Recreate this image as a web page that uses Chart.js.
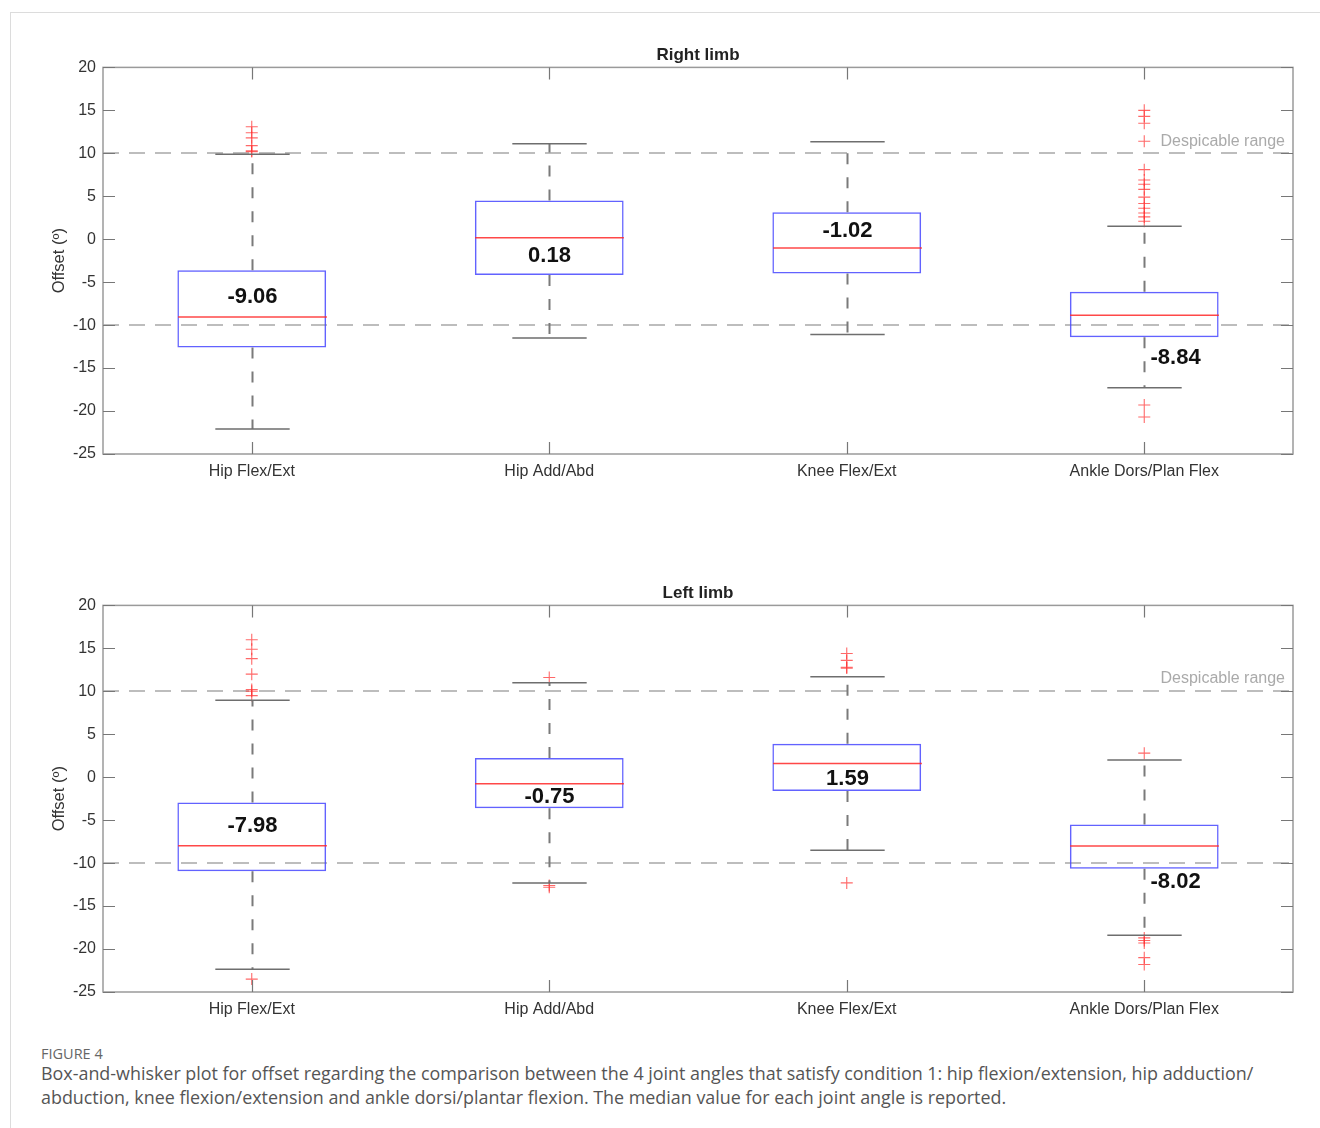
<!DOCTYPE html>
<html>
<head>
<meta charset="utf-8">
<script src="https://cdn.jsdelivr.net/npm/chart.js@4.4.1/dist/chart.umd.min.js"></script>
<style>
  body { margin: 0; background: #fff; width: 1320px; height: 1128px; overflow: hidden; position: relative; }
  #karte { position: absolute; left: 10px; top: 12px; width: 1320px; height: 1130px;
           border-top: 1px solid #dcdcdc; border-left: 1px solid #dcdcdc; }
  .plot { position: absolute; left: 0; width: 1320px; height: 500px; }
  #plotRechts { top: 0; }
  #plotLinks { top: 538px; }
  #figNr { position: absolute; left: 41px; top: 1044px; font: 14.5px "Open Sans", "Noto Sans", sans-serif; color: #666; }
  #caption { position: absolute; left: 41px; top: 1061px; font: 17.9px/24px "Open Sans", "Noto Sans", sans-serif; color: #555; white-space: nowrap; }
</style>
</head>
<body>
<div id="karte"></div>
<div class="plot" id="plotRechts"><canvas id="canvasRechts" width="1320" height="500"></canvas></div>
<div class="plot" id="plotLinks"><canvas id="canvasLinks" width="1320" height="500"></canvas></div>
<div id="figNr">FIGURE 4</div>
<div id="caption">Box-and-whisker plot for offset regarding the comparison between the 4 joint angles that satisfy condition 1: hip flexion/extension, hip adduction/<br>abduction, knee flexion/extension and ankle dorsi/plantar flexion. The median value for each joint angle is reported.</div>

<script>
// Gelenkwinkel (Kategorien)
const gelenke = ["Hip Flex/Ext", "Hip Add/Abd", "Knee Flex/Ext", "Ankle Dors/Plan Flex"];
const yTicks = [-25, -20, -15, -10, -5, 0, 5, 10, 15, 20];
const vernachlaessigbar = [10, -10];

// Rechtes Bein
const rechtsQ1 = [-12.6, -4.15, -4.0, -11.4];
const rechtsQ3 = [-3.6, 4.5, 3.15, -6.1];
const rechtsMedian = [-9.06, 0.18, -1.02, -8.84];
const rechtsWhiskerUnten = [-22.1, -11.5, -11.1, -17.3];
const rechtsWhiskerOben = [9.9, 11.1, 11.35, 1.5];
const rechtsAusreisser = [
  [13.1, 12.4, 11.8, 10.9, 10.3, 10.2],
  [],
  [],
  [15.0, 14.3, 13.5, 11.4, 8.1, 6.9, 6.4, 5.8, 4.9, 4.15, 3.6, 3.05, 2.6, 2.1, -19.3, -20.7]
];

// Linkes Bein
const linksQ1 = [-10.95, -3.6, -1.6, -10.65];
const linksQ3 = [-2.95, 2.25, 3.9, -5.5];
const linksMedian = [-7.98, -0.75, 1.59, -8.02];
const linksWhiskerUnten = [-22.35, -12.3, -8.5, -18.4];
const linksWhiskerOben = [8.95, 11.0, 11.7, 2.0];
const linksAusreisser = [
  [16.0, 14.9, 13.8, 12.0, 10.2, 10.0, 9.5, -23.5],
  [11.6, -12.6, -12.8],
  [14.4, 13.6, 12.8, 12.7, -12.3],
  [2.8, -18.7, -19.0, -19.3, -21.0, -21.8]
];

const schrift = '"Liberation Sans", Arial, Helvetica, sans-serif';

// Whisker, Median, Rahmen und Hinweise zeichnen
const boxPlugin = {
  id: "boxExtras",
  beforeDatasetsDraw(chart, args, opts) {
    const { ctx, chartArea: a, scales: { y } } = chart;
    ctx.save();
    ctx.strokeStyle = "#bdbdbd";
    ctx.lineWidth = 2;
    ctx.setLineDash([16, 10]);
    vernachlaessigbar.forEach((v) => {
      const py = Math.round(y.getPixelForValue(v));
      ctx.beginPath();
      ctx.moveTo(a.left, py);
      ctx.lineTo(a.right, py);
      ctx.stroke();
    });
    ctx.setLineDash([]);
    ctx.fillStyle = "#aaaaaa";
    ctx.font = "16px " + schrift;
    ctx.textAlign = "right";
    ctx.textBaseline = "middle";
    ctx.fillText("Despicable range", a.right - 8, y.getPixelForValue(opts.hinweisBei));
    ctx.restore();
  },
  afterDatasetsDraw(chart, args, opts) {
    const { ctx, scales: { y } } = chart;
    const meta = chart.getDatasetMeta(0);
    ctx.save();
    gelenke.forEach((g, i) => {
      const bar = meta.data[i];
      const cx = Math.round(bar.x) + 0.5;
      const halb = bar.width / 2;
      const yQ1 = y.getPixelForValue(opts.q1[i]);
      const yQ3 = y.getPixelForValue(opts.q3[i]);
      const yLo = y.getPixelForValue(opts.lo[i]);
      const yHi = y.getPixelForValue(opts.hi[i]);
      const yMed = y.getPixelForValue(opts.median[i]);

      // gestrichelte Whisker
      ctx.strokeStyle = "#7a7a7a";
      ctx.lineWidth = 2;
      ctx.setLineDash([11, 13]);
      ctx.beginPath();
      ctx.moveTo(cx, yQ3);
      ctx.lineTo(cx, yHi);
      ctx.moveTo(cx, yQ1);
      ctx.lineTo(cx, yLo);
      ctx.stroke();
      ctx.setLineDash([]);

      // Endkappen
      ctx.strokeStyle = "#6e6e6e";
      ctx.lineWidth = 1.5;
      ctx.beginPath();
      ctx.moveTo(cx - halb / 2, yHi);
      ctx.lineTo(cx + halb / 2, yHi);
      ctx.moveTo(cx - halb / 2, yLo);
      ctx.lineTo(cx + halb / 2, yLo);
      ctx.stroke();

      // Median
      ctx.strokeStyle = "rgba(255, 40, 40, 0.85)";
      ctx.lineWidth = 1.5;
      ctx.beginPath();
      ctx.moveTo(cx - halb, yMed);
      ctx.lineTo(cx + halb, yMed);
      ctx.stroke();

      // Medianwert als Text
      const lage = opts.labelLage[i];
      ctx.fillStyle = "#111";
      ctx.font = "bold 22px " + schrift;
      ctx.textAlign = lage.align;
      ctx.textBaseline = "middle";
      ctx.fillText(opts.median[i].toFixed(2), cx + lage.dx, yMed + lage.dy);
    });
    ctx.restore();
  },
  afterDraw(chart) {
    const { ctx, chartArea: a, scales: { x, y } } = chart;
    ctx.save();
    ctx.strokeStyle = "#9a9a9a";
    ctx.lineWidth = 1.5;
    ctx.strokeRect(a.left, a.top, a.right - a.left, a.bottom - a.top);
    ctx.strokeStyle = "#777";
    ctx.lineWidth = 1.2;
    ctx.beginPath();
    yTicks.forEach((v) => {
      const py = Math.round(y.getPixelForValue(v)) + 0.5;
      ctx.moveTo(a.left, py);
      ctx.lineTo(a.left + 12, py);
      ctx.moveTo(a.right - 12, py);
      ctx.lineTo(a.right, py);
    });
    gelenke.forEach((g, i) => {
      const px = Math.round(x.getPixelForValue(i)) + 0.5;
      ctx.moveTo(px, a.top);
      ctx.lineTo(px, a.top + 12);
      ctx.moveTo(px, a.bottom - 12);
      ctx.lineTo(px, a.bottom);
    });
    ctx.stroke();
    ctx.restore();
  }
};

function erstelleBoxplot(canvasID, titel, q1, q3, median, lo, hi, ausreisser, labelLage, hinweisBei) {
  const punkte = [];
  ausreisser.forEach((liste, i) => {
    liste.forEach((v) => punkte.push({ x: gelenke[i], y: v }));
  });

  const canvas = document.getElementById(canvasID).getContext("2d");
  return new Chart(canvas, {
    type: "bar",
    data: {
      labels: gelenke,
      datasets: [
        {
          type: "bar",
          data: q1.map((v, i) => [v, q3[i]]),
          backgroundColor: "rgba(0,0,0,0)",
          borderColor: "rgba(70, 70, 255, 0.85)",
          borderWidth: 1.5,
          borderSkipped: false,
          barPercentage: 0.5,
          categoryPercentage: 1,
          order: 2
        },
        {
          type: "line",
          data: punkte,
          showLine: false,
          pointStyle: "cross",
          pointRadius: 6,
          pointBorderWidth: 1.1,
          borderColor: "rgba(255, 40, 40, 0.7)",
          backgroundColor: "rgba(255, 40, 40, 0.7)",
          order: 1
        }
      ]
    },
    options: {
      responsive: false,
      animation: false,
      layout: {
        padding: { top: 43, right: 27, left: 0, bottom: 0 }
      },
      plugins: {
        legend: { display: false },
        tooltip: { enabled: false },
        title: {
          display: true,
          text: titel,
          fullSize: false,
          color: "#222",
          font: { family: schrift, size: 17, weight: "bold" },
          padding: { top: 2, bottom: 2 }
        },
        boxExtras: { q1, q3, median, lo, hi, labelLage, hinweisBei }
      },
      scales: {
        x: {
          grid: { display: false, drawTicks: false },
          border: { display: false },
          ticks: { color: "#333", padding: 8, font: { family: schrift, size: 16 } },
          afterFit(s) { s.height = 46; }
        },
        y: {
          min: -25,
          max: 20,
          grid: { display: false, drawTicks: false },
          border: { display: false },
          ticks: { stepSize: 5, color: "#333", padding: 7, font: { family: schrift, size: 16 } },
          title: {
            display: true,
            text: "Offset (º)",
            color: "#333",
            font: { family: schrift, size: 16.5 },
            padding: { top: 50, bottom: 0 }
          },
          afterFit(s) { s.width = 103; }
        }
      }
    },
    plugins: [boxPlugin]
  });
}

window.chartRechts = erstelleBoxplot(
  "canvasRechts", "Right limb",
  rechtsQ1, rechtsQ3, rechtsMedian, rechtsWhiskerUnten, rechtsWhiskerOben, rechtsAusreisser,
  [
    { dx: 0, dy: -20, align: "center" },
    { dx: 0, dy: 18, align: "center" },
    { dx: 0, dy: -17, align: "center" },
    { dx: 6, dy: 43, align: "left" }
  ],
  11.4
);

window.chartLinks = erstelleBoxplot(
  "canvasLinks", "Left limb",
  linksQ1, linksQ3, linksMedian, linksWhiskerUnten, linksWhiskerOben, linksAusreisser,
  [
    { dx: 0, dy: -20, align: "center" },
    { dx: 0, dy: 13, align: "center" },
    { dx: 0, dy: 15, align: "center" },
    { dx: 6, dy: 36, align: "left" }
  ],
  11.5
);
</script>
</body>
</html>
